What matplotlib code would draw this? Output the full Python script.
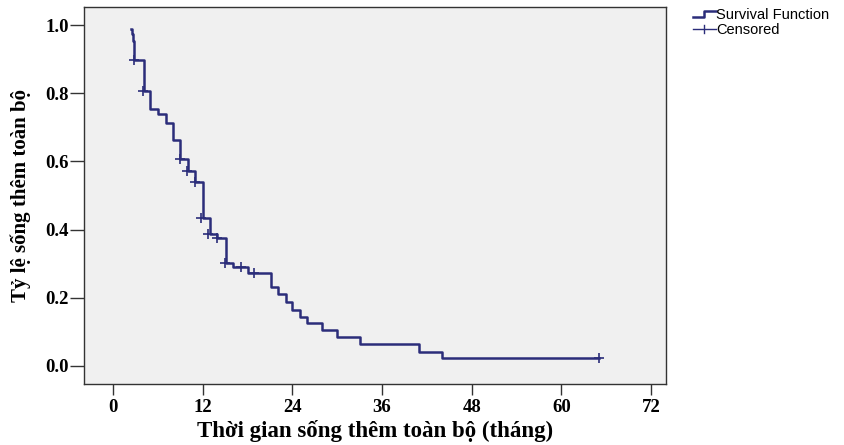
import matplotlib
matplotlib.use('Agg')
import matplotlib.pyplot as plt
from matplotlib.lines import Line2D

# Kaplan-Meier steps (time in months, survival after the step)
times = [2.4, 2.5, 2.6, 2.75, 4.15, 4.95, 6.0, 7.1, 8.05, 9.0, 10.0, 11.0, 12.0,
         12.9, 13.9, 15.1, 16.05, 18.0, 21.1, 22.1, 23.1, 24.0, 25.0, 26.0,
         28.0, 30.0, 33.0, 40.9, 44.0, 65.0]
surv = [0.99, 0.975, 0.955, 0.899, 0.808, 0.754, 0.740, 0.714, 0.662, 0.607,
        0.571, 0.541, 0.435, 0.387, 0.375, 0.303, 0.289, 0.272, 0.231, 0.211,
        0.188, 0.164, 0.142, 0.125, 0.105, 0.084, 0.064, 0.041, 0.022, 0.022]

# censored cases
cens_t = [2.8, 4.0, 8.9, 9.9, 10.9, 11.7, 12.7, 13.9, 15.0, 17.05, 18.9, 65.0]
cens_s = [0.899, 0.808, 0.607, 0.571, 0.541, 0.435, 0.387, 0.375, 0.303,
          0.289, 0.272, 0.022]

xticks = [0, 12, 24, 36, 48, 60, 72]
yticks = [0.0, 0.2, 0.4, 0.6, 0.8, 1.0]

navy = '#2b2d7a'
serif = ['Liberation Serif', 'DejaVu Serif']

fig = plt.figure(figsize=(8.45, 4.45), dpi=100)
ax = fig.add_axes([84/845, 1-384/445, (666-84)/845, (384-7)/445])
ax.set_facecolor('#f0f0f0')

ax.plot(times, surv, drawstyle='steps-post', color=navy, lw=1.8)
ax.plot(cens_t, cens_s, '+', color=navy, ms=6.5, mew=1.2)

ax.set_xlim(-3.9, 74)
ax.set_ylim(-0.054, 1.054)
ax.set_xticks(xticks)
ax.set_yticks(yticks)
ax.set_xticklabels([str(t) for t in xticks])
ax.set_yticklabels(['%.1f' % v for v in yticks])
for lab in ax.get_xticklabels() + ax.get_yticklabels():
    lab.set_family(serif)
    lab.set_fontweight('bold')
    lab.set_fontsize(13.5)
ax.tick_params(axis='y', length=10, width=1, pad=1, color='#333333')
ax.tick_params(axis='x', length=8, width=1, pad=3, color='#333333')
for sp in ax.spines.values():
    sp.set_color('#333333')
    sp.set_linewidth(1)

fig.text(375/845, 1-431/445, 'Thời gian sống thêm toàn bộ (tháng)', family=serif,
         fontweight='bold', fontsize=16.5, ha='center', va='center')
fig.text(21/845, 1-196/445, 'Tỷ lệ sống thêm toàn bộ', family=serif,
         fontweight='bold', fontsize=15, ha='center', va='center', rotation=90)

# legend drawn by hand to match the SPSS look
fig.add_artist(Line2D([693/845, 704/845, 704/845, 716/845],
                      [1-17/445, 1-17/445, 1-11/445, 1-11/445],
                      color=navy, lw=1.8, transform=fig.transFigure))
fig.add_artist(Line2D([693/845, 716/845], [1-29/445, 1-29/445],
                      color=navy, lw=1, transform=fig.transFigure))
fig.add_artist(Line2D([704/845, 704/845], [1-25/445, 1-33/445],
                      color=navy, lw=1, transform=fig.transFigure))
fig.text(716/845, 1-15/445, 'Survival Function', family=['Liberation Sans', 'DejaVu Sans'],
         fontsize=10.5, va='center', ha='left')
fig.text(716/845, 1-30/445, 'Censored', family=['Liberation Sans', 'DejaVu Sans'],
         fontsize=10.5, va='center', ha='left')

fig.savefig('out.png', dpi=100)
